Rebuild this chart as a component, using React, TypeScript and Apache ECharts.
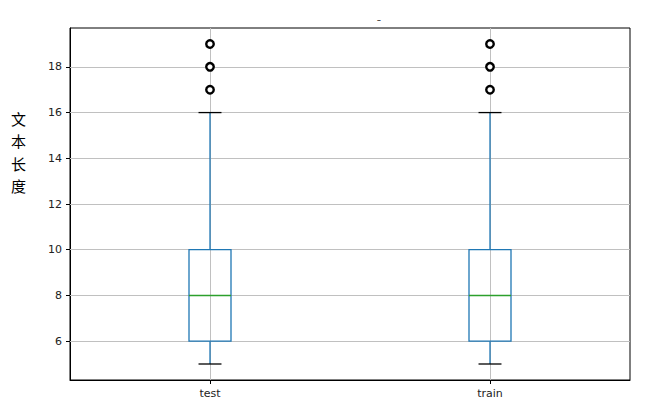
import React, { useEffect, useRef } from "react";
import * as echarts from "echarts";

const categories = ["test", "train"];
const whiskerLow = [5, 5];
const q1Values = [6, 6];
const medians = [8, 8];
const q3Values = [10, 10];
const whiskerHigh = [16, 16];
const outlierValues = [
  [17, 18, 19],
  [17, 18, 19],
];
const yTicks = [6, 8, 10, 12, 14, 16, 18];
const yLabel = "文\n本\n长\n度";
const titleText = "-";

export default function App() {
  const ref = useRef<HTMLDivElement>(null);
  useEffect(() => {
    if (!ref.current) return;
    document.body.style.margin = "0";
    const chart = echarts.init(ref.current, null, { renderer: "svg" });
    const boxData = categories.map((_, i) => [
      i,
      whiskerLow[i],
      q1Values[i],
      medians[i],
      q3Values[i],
      whiskerHigh[i],
    ]);
    const outlierData: any[] = [];
    categories.forEach((c, i) => {
      outlierValues[i].forEach((v) => outlierData.push([c, v]));
    });
    const fontFamily = "DejaVu Sans";
    chart.setOption({
      animation: false,
      textStyle: { fontFamily },
      grid: {
        left: 70,
        right: 16,
        top: 28,
        bottom: 29,
        show: true,
        borderColor: "#000",
        borderWidth: 1,
        backgroundColor: "transparent",
      },
      graphic: [
        {
          type: "text",
          left: 11,
          top: 107,
          style: {
            text: yLabel,
            font: '15px "Noto Sans CJK SC"',
            fill: "#000",
            lineHeight: 22.5,
          },
        },
        {
          type: "text",
          x: 379,
          y: 20,
          style: {
            text: titleText,
            font: "12px DejaVu Sans",
            fill: "#555",
            align: "center",
            verticalAlign: "middle",
          },
        },
      ],
      xAxis: {
        type: "category",
        data: categories,
        boundaryGap: true,
        axisLine: { show: true, lineStyle: { color: "#000", width: 1 } },
        axisTick: { show: true, alignWithLabel: true, length: 4, lineStyle: { color: "#000" } },
        axisLabel: { color: "#222", fontSize: 11, margin: 8, fontFamily },
        splitLine: { show: false },
      },
      yAxis: {
        type: "value",
        min: 4.3,
        max: 19.7,
        axisLine: { show: true, lineStyle: { color: "#000", width: 1 } },
        axisTick: { show: true, length: 4, customValues: yTicks, lineStyle: { color: "#000" } },
        axisLabel: { color: "#222", fontSize: 11, margin: 8, customValues: yTicks, fontFamily },
        splitLine: { show: false },
      },
      series: [
        {
          type: "line",
          data: [],
          z: 1,
          silent: true,
          markLine: {
            z: 1,
            silent: true,
            symbol: ["none", "none"],
            label: { show: false },
            lineStyle: { color: "#c0c0c0", width: 1, type: "solid" },
            data: [
              ...yTicks.map((v) => ({ yAxis: v })),
              ...categories.map((c) => ({ xAxis: c })),
            ],
          },
        },
        {
          type: "custom",
          z: 10,
          data: boxData,
          encode: { x: 0, y: [1, 2, 3, 4, 5] },
          renderItem: (params: any, api: any) => {
            const idx = api.value(0);
            const band = api.size([1, 0])[0];
            const boxHalf = band * 0.075;
            const capHalf = band * 0.041;
            const pMin = api.coord([idx, api.value(1)]);
            const pQ1 = api.coord([idx, api.value(2)]);
            const pMed = api.coord([idx, api.value(3)]);
            const pQ3 = api.coord([idx, api.value(4)]);
            const pMax = api.coord([idx, api.value(5)]);
            const cx = pMin[0];
            const blue = "#1f77b4";
            const lw = 1.3;
            return {
              type: "group",
              children: [
                {
                  type: "line",
                  shape: { x1: cx, y1: pQ1[1], x2: cx, y2: pMin[1] },
                  style: { stroke: blue, lineWidth: lw },
                },
                {
                  type: "line",
                  shape: { x1: cx, y1: pQ3[1], x2: cx, y2: pMax[1] },
                  style: { stroke: blue, lineWidth: lw },
                },
                {
                  type: "line",
                  shape: { x1: cx - capHalf, y1: pMin[1], x2: cx + capHalf, y2: pMin[1] },
                  style: { stroke: "#000", lineWidth: lw },
                },
                {
                  type: "line",
                  shape: { x1: cx - capHalf, y1: pMax[1], x2: cx + capHalf, y2: pMax[1] },
                  style: { stroke: "#000", lineWidth: lw },
                },
                {
                  type: "rect",
                  shape: {
                    x: cx - boxHalf,
                    y: pQ3[1],
                    width: boxHalf * 2,
                    height: pQ1[1] - pQ3[1],
                  },
                  style: { stroke: blue, fill: "none", lineWidth: lw },
                },
                {
                  type: "line",
                  shape: { x1: cx - boxHalf, y1: pMed[1], x2: cx + boxHalf, y2: pMed[1] },
                  style: { stroke: "#2ca02c", lineWidth: 1.5 },
                },
              ],
            };
          },
        },
        {
          type: "scatter",
          z: 11,
          data: outlierData,
          symbol: "circle",
          symbolSize: 7.5,
          itemStyle: { color: "#fff", borderColor: "#000", borderWidth: 2.4, opacity: 1 },
        },
      ],
    });
    return () => chart.dispose();
  }, []);
  return <div ref={ref} style={{ width: 646, height: 409 }} />;
}
